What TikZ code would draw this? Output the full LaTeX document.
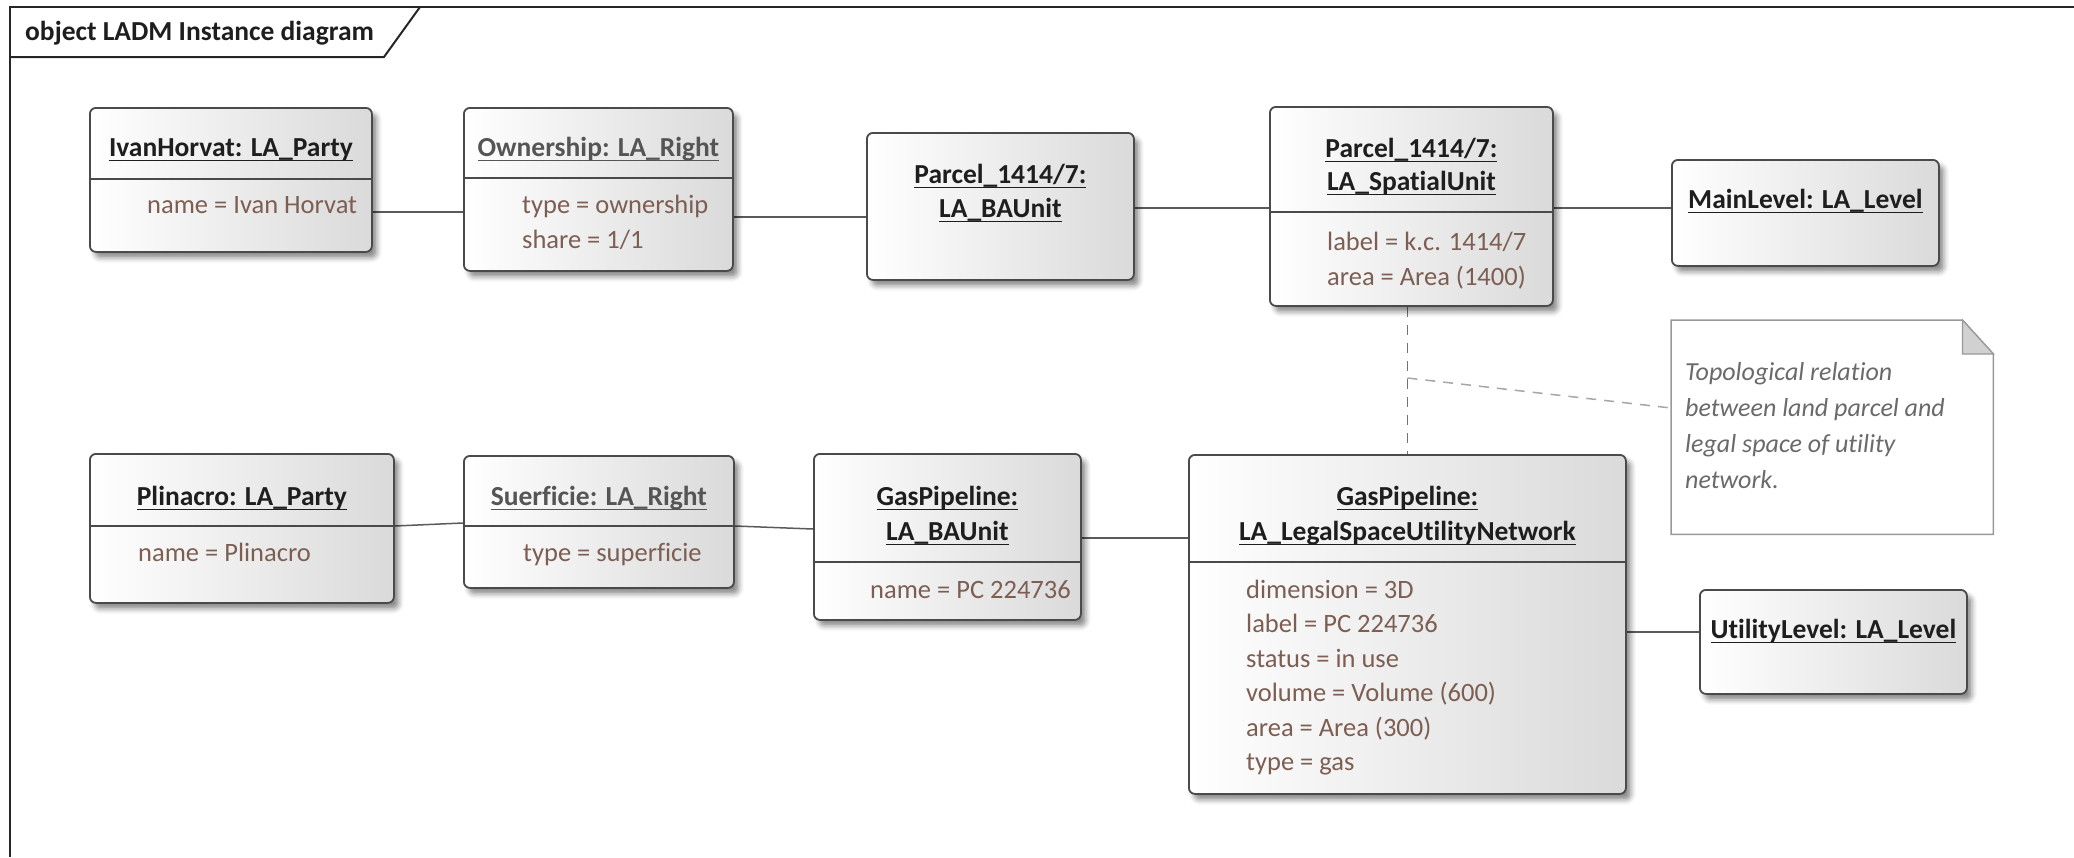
\documentclass[tikz,border=0pt]{standalone}
\usepackage{fontspec}
\setmainfont{Carlito}[Ligatures=NoCommon]
\usetikzlibrary{shadows.blur,backgrounds}

\definecolor{boxline}{HTML}{4A4A4A}
\definecolor{boxgray}{HTML}{DADADA}
\definecolor{titlec}{HTML}{1E1E1E}
\definecolor{titlegray}{HTML}{555555}
\definecolor{attrc}{HTML}{7D5E52}
\definecolor{notec}{HTML}{6A6A6A}
\definecolor{linkc}{HTML}{5A5A5A}

% underline drawn just below the baseline, as in UML instance names
\newcommand*\ulin[1]{\setbox0\hbox{#1}\rlap{\rule[-5pt]{\wd0}{1.5pt}}\box0}

\tikzset{
  objbox/.style={rounded corners=6pt, draw=boxline, line width=1.8pt,
    left color=white, right color=boxgray, inner sep=0pt, anchor=north west,
    blur shadow={shadow xshift=5pt, shadow yshift=-6pt, shadow blur radius=5pt, shadow opacity=45}},
  divider/.style={draw=boxline, line width=1.6pt},
  ttl/.style={inner sep=0pt, anchor=base, text=titlec, font=\fontsize{27.5}{33}\selectfont\bfseries},
  ttlgray/.style={ttl, text=titlegray},
  attr/.style={inner sep=0pt, anchor=base west, text=attrc, font=\fontsize{26.5}{33}\selectfont},
  notetxt/.style={inner sep=0pt, anchor=base west, text=notec, font=\fontsize{26}{36}\selectfont\itshape},
  link/.style={draw=linkc, line width=1.5pt},
  dashlink/.style={draw=#1, line width=1.5pt, dash pattern=on 10pt off 8pt},
}

\begin{document}
\begin{tikzpicture}[x=1pt, y=-1pt]
\useasboundingbox (0,0) rectangle (2074,857);

% diagram frame and its name tab
\draw[line width=2pt, draw=black!85] (10,857) -- (10,7) -- (2074,7);
\draw[line width=2pt, draw=black!85] (10,57) -- (384,57) -- (420,7);
\node[inner sep=0pt, anchor=base west, text=titlec, font=\fontsize{27.5}{33}\selectfont\bfseries]
  (frametitle) at (25,40) {object LADM Instance diagram};

% ---------- upper row ----------
\node[objbox, minimum width=282pt, minimum height=144pt] (ivan) at (89,107) {};
\draw[divider] (ivan.west |- 0,179) -- (ivan.east |- 0,179);
\node[ttl] (ivanT) at (ivan.north |- 0,156) {\ulin{IvanHorvat: LA\_Party}};
\node[attr] (ivanA) at (147,213) {name = Ivan Horvat};

\node[objbox, minimum width=269pt, minimum height=163pt] (own) at (463,107) {};
\draw[divider] (own.west |- 0,178) -- (own.east |- 0,178);
\node[ttlgray] (ownT) at (own.north |- 0,156) {\ulin{Ownership: LA\_Right}};
\node[attr] (ownA1) at (522,213) {type = ownership};
\node[attr] (ownA2) at (522,248) {share = 1/1};

\node[objbox, minimum width=267pt, minimum height=147pt] (bau) at (866,132) {};
\node[ttl] (bauT1) at (bau.north |- 0,183) {\ulin{Parcel\_1414/7:}};
\node[ttl] (bauT2) at (bau.north |- 0,217) {\ulin{LA\_BAUnit}};

\node[objbox, minimum width=283pt, minimum height=199pt] (spat) at (1269,106) {};
\draw[divider] (spat.west |- 0,212) -- (spat.east |- 0,212);
\node[ttl] (spatT1) at (spat.north |- 0,157) {\ulin{Parcel\_1414/7:}};
\node[ttl] (spatT2) at (spat.north |- 0,190) {\ulin{LA\_SpatialUnit}};
\node[attr] (spatA1) at (1327,250) {label = k.c. 1414/7};
\node[attr] (spatA2) at (1327,285) {area = Area (1400)};

\node[objbox, minimum width=267pt, minimum height=106pt] (mainlv) at (1671,159) {};
\node[ttl] (mainT) at (mainlv.north |- 0,208) {\ulin{MainLevel: LA\_Level}};

% ---------- lower row ----------
\node[objbox, minimum width=304pt, minimum height=149pt] (plin) at (89,453) {};
\draw[divider] (plin.west |- 0,526) -- (plin.east |- 0,526);
\node[ttl] (plinT) at (plin.north |- 0,505) {\ulin{Plinacro: LA\_Party}};
\node[attr] (plinA) at (138,561) {name = Plinacro};

\node[objbox, minimum width=270pt, minimum height=132pt] (suer) at (463,455) {};
\draw[divider] (suer.west |- 0,526) -- (suer.east |- 0,526);
\node[ttlgray] (suerT) at (suer.north |- 0,505) {\ulin{Suerficie: LA\_Right}};
\node[attr] (suerA) at (523,561) {type = superficie};

\node[objbox, minimum width=267pt, minimum height=166pt] (gasba) at (813,453) {};
\draw[divider] (gasba.west |- 0,562) -- (gasba.east |- 0,562);
\node[ttl] (gasbaT1) at (gasba.north |- 0,505) {\ulin{GasPipeline:}};
\node[ttl] (gasbaT2) at (gasba.north |- 0,540) {\ulin{LA\_BAUnit}};
\node[attr] (gasbaA) at (870,598) {name = PC 224736};

\node[objbox, minimum width=437pt, minimum height=339pt] (legal) at (1188,454) {};
\draw[divider] (legal.west |- 0,562) -- (legal.east |- 0,562);
\node[ttl] (legalT1) at (legal.north |- 0,505) {\ulin{GasPipeline:}};
\node[ttl] (legalT2) at (legal.north |- 0,540) {\ulin{LA\_LegalSpaceUtilityNetwork}};
\node[attr] (legalA1) at (1246,598) {dimension = 3D};
\node[attr] (legalA2) at (1246,632.5) {label = PC 224736};
\node[attr] (legalA3) at (1246,667) {status = in use};
\node[attr] (legalA4) at (1246,701.5) {volume = Volume (600)};
\node[attr] (legalA5) at (1246,736) {area = Area (300)};
\node[attr] (legalA6) at (1246,770.5) {type = gas};

\node[objbox, minimum width=267pt, minimum height=104pt] (util) at (1699,589) {};
\node[ttl] (utilT) at (util.north |- 0,638) {\ulin{UtilityLevel: LA\_Level}};

% ---------- note ----------
\node[inner sep=0pt, anchor=north west, minimum width=322pt, minimum height=214pt] (note) at (1671,320) {};
\coordinate (fold) at ([xshift=-31pt]note.north east);
\coordinate (foldlow) at ([yshift=-34pt]note.north east);
\draw[draw=black!40, fill=white, line width=1.5pt]
  (note.north west) -- (fold) -- (foldlow) -- (note.south east) -- (note.south west) -- cycle;
\draw[draw=black!40, fill=black!18, line width=1.2pt] (fold) -- (fold |- foldlow) -- (foldlow) -- cycle;
\node[notetxt] (noteL1) at (1685,380) {Topological relation};
\node[notetxt] (noteL2) at (1685,416) {between land parcel and};
\node[notetxt] (noteL3) at (1685,452) {legal space of utility};
\node[notetxt] (noteL4) at (1685,488) {network.};

% ---------- links, under the boxes ----------
\begin{pgfonlayer}{background}
\draw[link] (ivan.east |- 0,212) -- (own.west |- 0,212);
\draw[link] (own.east |- 0,217) -- (bau.west |- 0,217);
\draw[link] (bau.east |- 0,208) -- (spat.west |- 0,208);
\draw[link] (spat.east |- 0,208) -- (mainlv.west |- 0,208);
\draw[link] (plin.east |- 0,526) -- (suer.west |- 0,523);
\draw[link] (suer.east |- 0,526) -- (gasba.west |- 0,529);
\draw[link] (gasba.east |- 0,538) -- (legal.west |- 0,538);
\draw[link] (legal.east |- 0,632) -- (util.west |- 0,632);
\coordinate (topo) at (legal.north |- 0,378);
\draw[dashlink=black!55] (legal.north |- spat.south) -- (legal.north);
\draw[dashlink=black!35] (topo) -- (note.west |- 0,408);
\end{pgfonlayer}
\end{tikzpicture}
\end{document}
